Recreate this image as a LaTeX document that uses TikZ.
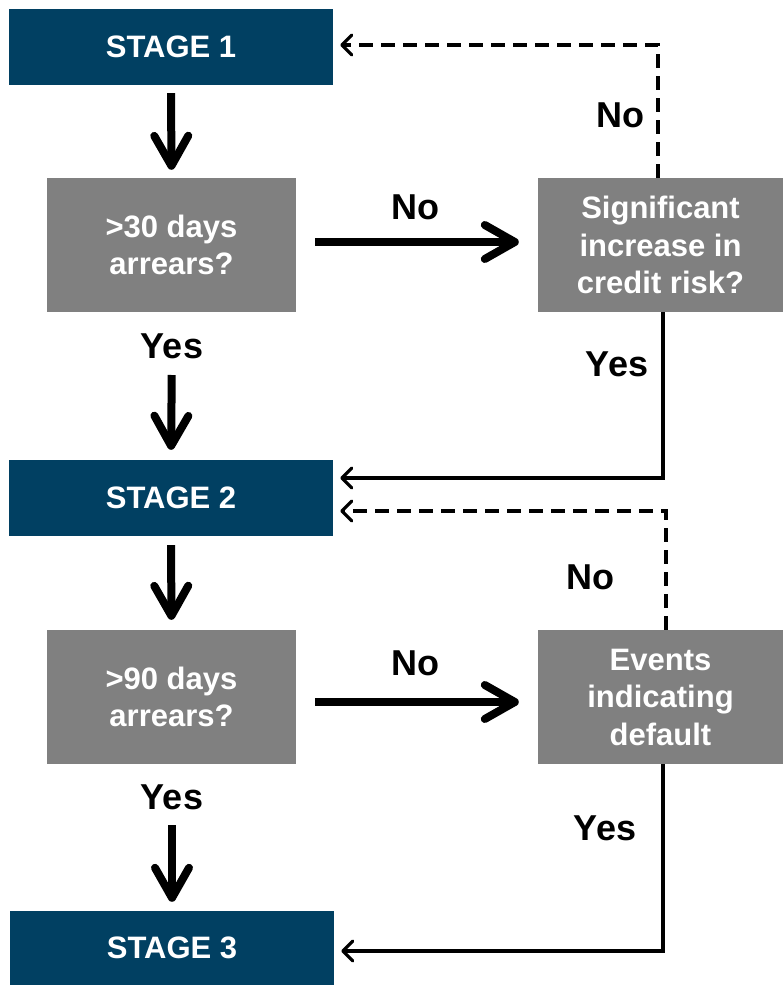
\documentclass[tikz,border=0pt]{standalone}
\usepackage{fontspec}
\setmainfont{Liberation Sans}
\usetikzlibrary{arrows.meta}
\definecolor{stageblue}{RGB}{1,64,98}
\definecolor{askgray}{RGB}{128,128,128}
\tikzset{
  boxfont/.style={font=\bfseries\fontsize{31}{37.5}\selectfont},
  stagebox/.style={boxfont, fill=stageblue, text=white, minimum width=324pt, minimum height=76pt, inner sep=0pt},
  askbox/.style={boxfont, fill=askgray, text=white, minimum width=249pt, minimum height=134pt, inner sep=0pt, align=center},
  flowlabel/.style={font=\bfseries\fontsize{36}{40}\selectfont, text=black, inner sep=0pt},
  bigarrow/.style={line width=8pt, -{Straight Barb[length=30pt,width=34pt,round]}},
  backarrow/.style={line width=3.2pt, -{Straight Barb[length=10pt,width=20pt,round]}},
  backdash/.style={backarrow, dash pattern=on 14pt off 8pt}
}
\begin{document}
\begin{tikzpicture}[x=1pt,y=-1pt]
                    \useasboundingbox (0,0) rectangle (783,985);
                    \node[stagebox] (stage1) at (171,47) {STAGE 1};
                    \node[stagebox] (stage2) at (171,498) {STAGE 2};
                    \node[stagebox, minimum height=74pt] (stage3) at (172,948) {STAGE 3};
                    \node[askbox] (arrears30) at (171.5,245) {>30 days\\arrears?};
                    \node[askbox] (arrears90) at (171.5,697) {>90 days\\arrears?};
                    \node[askbox, minimum width=245pt] (sicr) at (660.5,245) {Significant\\increase in\\credit risk?};
                    \node[askbox, minimum width=245pt] (events) at (660.5,697) {Events\\indicating\\default};
                    \node[flowlabel] (yes30) at (172,346) {Yes};
                    \node[flowlabel] (yes90) at (172,797) {Yes};
                    \node[flowlabel] (no30) at (415,207) {No};
                    \node[flowlabel] (no90) at (415,663) {No};
                    \node[flowlabel] (nosicr) at (620,115) {No};
                    \node[flowlabel] (yessicr) at (617,364) {Yes};
                    \node[flowlabel] (noevents) at (590,577) {No};
                    \node[flowlabel] (yesevents) at (605,828) {Yes};
                    \draw[bigarrow, shorten <=8pt, shorten >=8pt] (stage1.south) -- (arrears30.north);
                    \draw[bigarrow, shorten <=29pt, shorten >=10pt] (yes30.center) -- (stage2.north);
                    \draw[bigarrow, shorten <=9pt, shorten >=10pt] (stage2.south) -- (arrears90.north);
                    \draw[bigarrow, shorten <=28pt, shorten >=9pt] (yes90.center) -- (stage3.north);
                    \draw[bigarrow, shorten <=19pt, shorten >=19pt] ([yshift=3pt]arrears30.east) -- ([yshift=3pt]sicr.west);
                    \draw[bigarrow, shorten <=19pt, shorten >=19pt] ([yshift=-5pt]arrears90.east) -- ([yshift=-5pt]events.west);
                    \draw[backdash] ([xshift=-2.5pt]sicr.north) |- ([xshift=7pt,yshift=2pt]stage1.east);
                    \draw[backarrow] ([xshift=2.5pt]sicr.south) |- ([xshift=7pt,yshift=20pt]stage2.east);
                    \draw[backdash] ([xshift=5.5pt]events.north) |- ([xshift=7pt,yshift=-13pt]stage2.east);
                    \draw[backarrow] ([xshift=2.5pt]events.south) |- ([xshift=7pt,yshift=-3pt]stage3.east);
                \end{tikzpicture}
\end{document}
